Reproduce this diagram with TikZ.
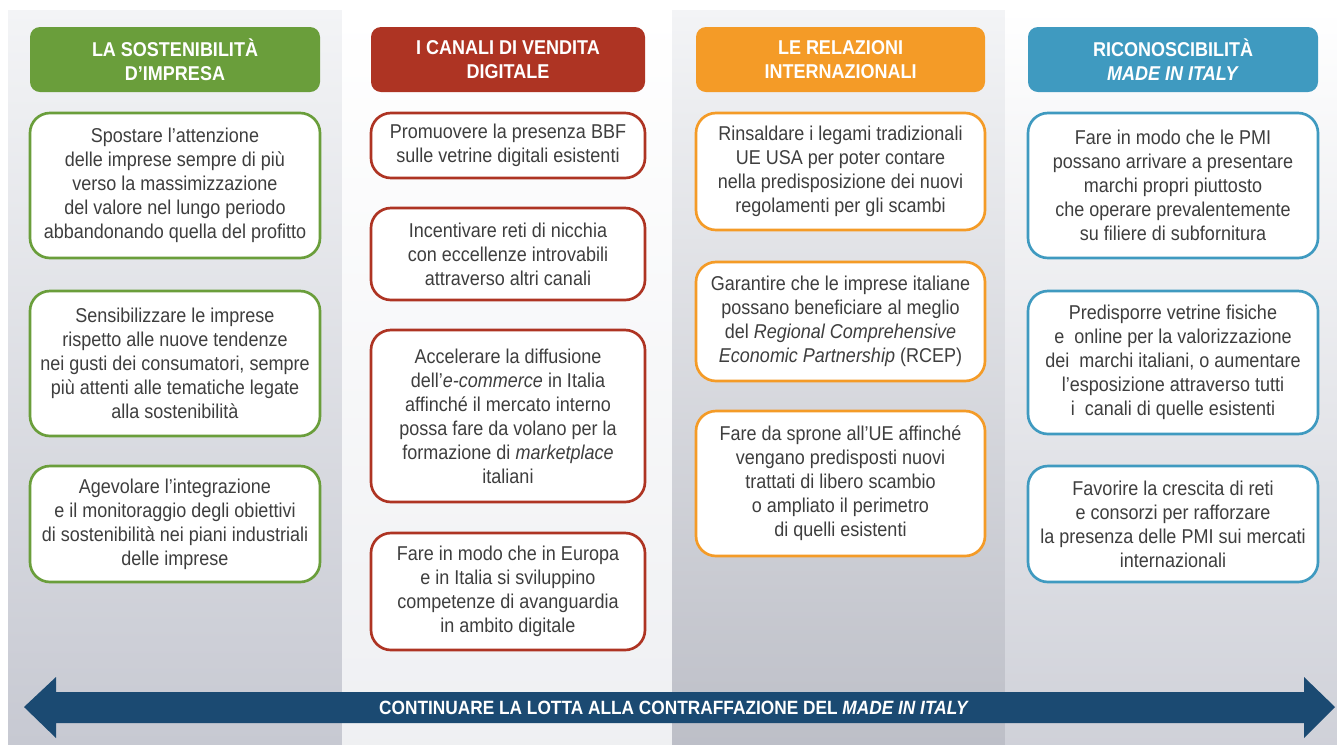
\documentclass[tikz,border=0pt]{standalone}
\usepackage{fontspec}
\setmainfont{Liberation Sans}[FakeStretch=0.9]
\definecolor{sostgreen}{HTML}{6A9E3B}
\definecolor{digired}{HTML}{AE3423}
\definecolor{relorange}{HTML}{F49B27}
\definecolor{ricblue}{HTML}{3F9AC0}
\definecolor{arrowblue}{HTML}{1B4A72}
\definecolor{textgrey}{HTML}{3E3E3E}
\definecolor{colgrey}{HTML}{C7C9D2}
\definecolor{collight}{HTML}{F3F4F6}

\begin{document}
\begin{tikzpicture}[x=0.75pt,y=-0.75pt,
	header/.style={fill=#1, rounded corners=7.5pt, text=white, align=center,
		font=\bfseries\fontsize{15}{18}\selectfont, minimum height=48.75pt, inner sep=0pt},
	goal/.style={draw=#1, line width=2pt, fill=white, rounded corners=15pt, text=textgrey,
		align=center, font=\fontsize{15}{18}\selectfont, inner sep=0pt},
	colA/.style={minimum width=217.5pt},
	colB/.style={minimum width=205.5pt},
	colC/.style={minimum width=216.75pt},
	colD/.style={minimum width=217.5pt}]
	\useasboundingbox (0,0) rectangle (1337,744);
	\fill[white] (0,0) rectangle (1337,744);
	% columns
	\shade[top color=collight, bottom color=colgrey] (8,10) rectangle (342,744);
	\shade[top color=white, bottom color=collight!90!colgrey] (342,10) rectangle (672,744);
	\shade[top color=collight, bottom color=colgrey!95!black] (672,10) rectangle (1005,744);
	\shade[top color=white, bottom color=colgrey!85!white] (1005,10) rectangle (1337,744);
	% headers
	\node[header=sostgreen, colA] (hSost) at (175,59.5) {LA SOSTENIBILITÀ\\D’IMPRESA};
	\node[header=digired, colB] (hDigi) at (508,59.5) {I CANALI DI VENDITA\\DIGITALE};
	\node[header=relorange, colC] (hRel) at (840.5,59.5) {LE RELAZIONI\\INTERNAZIONALI};
	\node[header=ricblue, colD] (hRic) at (1173,59.5) {RICONOSCIBILITÀ\\\textit{MADE IN ITALY}};
	% sostenibilita
	\node[goal=sostgreen, colA, minimum height=108.75pt] (sost1) at (175,185.5) {Spostare l’attenzione\\delle imprese sempre di più\\verso la massimizzazione\\del valore nel lungo periodo\\abbandonando quella del profitto};
	\node[goal=sostgreen, colA, minimum height=108.75pt] (sost2) at (175,363.5) {Sensibilizzare le imprese\\rispetto alle nuove tendenze\\nei gusti dei consumatori, sempre\\più attenti alle tematiche legate\\alla sostenibilità};
	\node[goal=sostgreen, colA, minimum height=87pt] (sost3) at (175,524) {Agevolare l’integrazione\\e il monitoraggio degli obiettivi\\di sostenibilità nei piani industriali\\delle imprese};
	% canali digitali
	\node[goal=digired, colB, minimum height=48.75pt] (digi1) at (508,145.5) {Promuovere la presenza BBF\\sulle vetrine digitali esistenti};
	\node[goal=digired, colB, minimum height=69pt] (digi2) at (508,254) {Incentivare reti di nicchia\\con eccellenze introvabili\\attraverso altri canali};
	\node[goal=digired, colB, minimum height=129pt] (digi3) at (508,416) {Accelerare la diffusione\\dell’\textit{e-commerce} in Italia\\affinché il mercato interno\\possa fare da volano per la\\formazione di \textit{marketplace}\\italiani};
	\node[goal=digired, colB, minimum height=87.75pt] (digi4) at (508,591.5) {Fare in modo che in Europa\\e in Italia si sviluppino\\competenze di avanguardia\\in ambito digitale};
	% relazioni internazionali
	\node[goal=relorange, colC, minimum height=87.75pt] (rel1) at (840.5,171.5) {Rinsaldare i legami tradizionali\\UE USA per poter contare\\nella predisposizione dei nuovi\\regolamenti per gli scambi};
	\node[goal=relorange, colC, minimum height=89.25pt] (rel2) at (840.5,321.5) {Garantire che le imprese italiane\\possano beneficiare al meglio\\del \textit{Regional Comprehensive}\\\textit{Economic Partnership} (RCEP)};
	\node[goal=relorange, colC, minimum height=108.75pt] (rel3) at (840.5,483.5) {Fare da sprone all’UE affinché\\vengano predisposti nuovi\\trattati di libero scambio\\o ampliato il perimetro\\di quelli esistenti};
	% riconoscibilita
	\node[goal=ricblue, colD, minimum height=108.75pt] (ric1) at (1173,185.5) {Fare in modo che le PMI\\possano arrivare a presentare\\marchi propri piuttosto\\che operare prevalentemente\\su filiere di subfornitura};
	\node[goal=ricblue, colD, minimum height=107.25pt] (ric2) at (1173,362.5) {Predisporre vetrine fisiche\\e\ \ online per la valorizzazione\\dei\ \ marchi italiani, o aumentare\\l’esposizione attraverso tutti\\i\ \ canali di quelle esistenti};
	\node[goal=ricblue, colD, minimum height=87pt] (ric3) at (1173,524) {Favorire la crescita di reti\\e consorzi per rafforzare\\la presenza delle PMI sui mercati\\internazionali};
	% bottom arrow
	\fill[arrowblue] (24,707) -- (56,677) -- (56,692) -- (1304,692) -- (1304,677) -- (1335,707)
		-- (1304,738) -- (1304,723) -- (56,723) -- (56,738) -- cycle;
	\node[text=white, font=\bfseries\fontsize{14.4}{16}\selectfont] (lotta) at (674,707.5) {CONTINUARE LA LOTTA ALLA CONTRAFFAZIONE DEL \textit{MADE IN ITALY}};
\end{tikzpicture}
\end{document}
